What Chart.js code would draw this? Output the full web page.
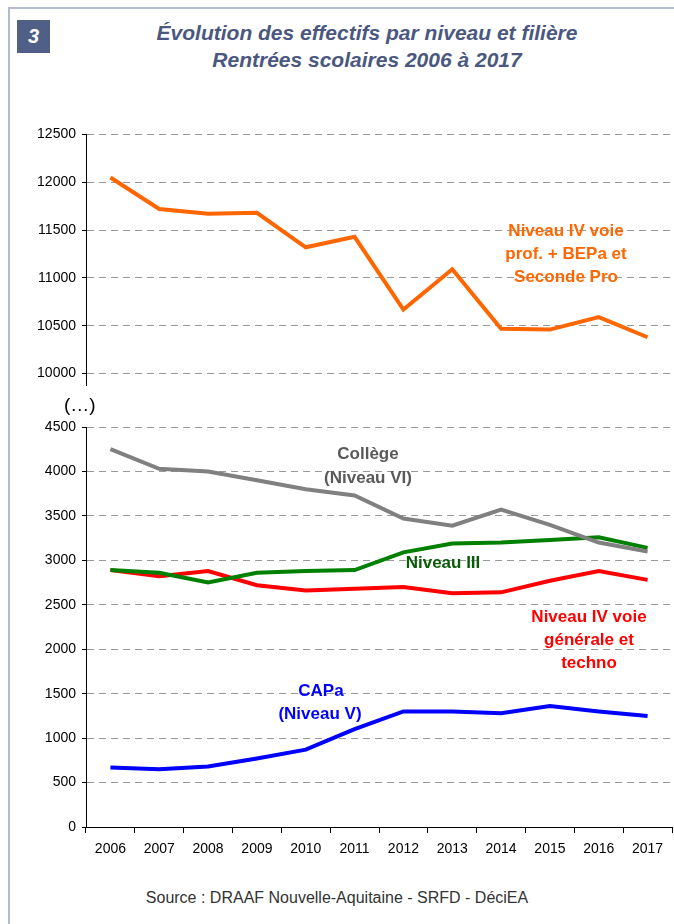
<!DOCTYPE html>
<html>
<head>
<meta charset="utf-8">
<script src="https://cdn.jsdelivr.net/npm/chart.js@4/dist/chart.umd.min.js"></script>
<style>
  html, body { margin:0; padding:0; background:#fff; }
  body { width:674px; height:924px; position:relative; overflow:hidden; font-family:"Liberation Sans", Arial, sans-serif; }
  #frame { position:absolute; left:8px; top:7px; width:700px; height:950px; border-left:2px solid #b3bbcd; border-top:2px solid #b3bbcd; }
  #badge { position:absolute; left:17px; top:20px; width:33px; height:33px; background:#4f5f86; color:#fff; font:italic bold 20px "Liberation Sans", Arial, sans-serif; text-align:center; line-height:33px; }
  .title { position:absolute; left:367px; transform:translateX(-50%); white-space:nowrap; color:#4a5880; font:italic bold 21px "Liberation Sans Narrow", "Liberation Sans", Arial, sans-serif; }
  canvas { position:absolute; left:0; }
  .lbl { position:absolute; transform:translate(-50%,-50%); white-space:nowrap; text-align:center; font:bold 17px "Liberation Sans", Arial, sans-serif; }
  #source { position:absolute; left:337px; top:898px; transform:translate(-50%,-50%); white-space:nowrap; color:#333; font:16px "Liberation Sans Narrow", "Liberation Sans", Arial, sans-serif; }
  #ellipsis { position:absolute; left:64px; top:394px; font:19px "Liberation Sans", Arial, sans-serif; color:#000; }
</style>
</head>
<body>
<div id="frame"></div>
<div id="badge">3</div>
<div class="title" style="top:21px">Évolution des effectifs par niveau et filière</div>
<div class="title" style="top:48px">Rentrées scolaires 2006 à 2017</div>
<canvas id="top" width="674" height="280" style="top:120px"></canvas>
<canvas id="bottom" width="674" height="470" style="top:400px"></canvas>
<div id="ellipsis">(…)</div>
<div class="lbl" style="left:566px;top:231px;color:#ff6600">Niveau IV voie</div>
<div class="lbl" style="left:566px;top:254px;color:#ff6600">prof. + BEPa et</div>
<div class="lbl" style="left:566px;top:277px;color:#ff6600">Seconde Pro</div>
<div class="lbl" style="left:368px;top:454px;color:#595959">Collège</div>
<div class="lbl" style="left:368px;top:478px;color:#595959">(Niveau VI)</div>
<div class="lbl" style="left:443px;top:563px;color:#0a5c0a">Niveau III</div>
<div class="lbl" style="left:589px;top:617px;color:#ff0000">Niveau IV voie</div>
<div class="lbl" style="left:589px;top:640px;color:#ff0000">générale et</div>
<div class="lbl" style="left:589px;top:663px;color:#ff0000">techno</div>
<div class="lbl" style="left:321px;top:691px;color:#0000ff">CAPa</div>
<div class="lbl" style="left:320px;top:714px;color:#0000ff">(Niveau V)</div>
<div id="source">Source : DRAAF Nouvelle-Aquitaine - SRFD - DéciEA</div>
<script>
const years = ["2006","2007","2008","2009","2010","2011","2012","2013","2014","2015","2016","2017"];
const niveauIVPro = [12050, 11720, 11670, 11680, 11320, 11430, 10670, 11090, 10470, 10460, 10590, 10380];
const college = [4250, 4030, 4000, 3900, 3800, 3730, 3470, 3390, 3570, 3400, 3200, 3100];
const niveauIII = [2890, 2860, 2750, 2860, 2880, 2890, 3090, 3190, 3200, 3230, 3260, 3140];
const niveauIVGen = [2890, 2820, 2880, 2720, 2660, 2680, 2700, 2630, 2640, 2770, 2880, 2780];
const capa = [670, 650, 680, 770, 870, 1100, 1300, 1300, 1280, 1360, 1300, 1250];
const topTicks = [10000, 10500, 11000, 11500, 12000, 12500];
const bottomTicks = [0, 500, 1000, 1500, 2000, 2500, 3000, 3500, 4000, 4500];

const FONT = "'Liberation Sans', Arial, sans-serif";
const line = (data, color) => ({ data, borderColor: color, backgroundColor: color, borderWidth: 4, pointRadius: 0, tension: 0, fill: false });

const yAxis = (min, max, tickValues) => ({
  min, max,
  afterFit: s => { s.width = 86; },
  afterBuildTicks: s => { s.ticks = tickValues.map(v => ({ value: v })); },
  ticks: { color: '#000', padding: 6, font: { family: FONT, size: 14 }, callback: v => String(v) },
  border: { display: true, color: '#000', width: 1, dash: [7, 5] },
  grid: { color: '#9a9a9a', lineWidth: 1, tickLength: 4, tickColor: '#000', tickBorderDash: [] }
});

new Chart(document.getElementById('top'), {
  type: 'line',
  data: { labels: years, datasets: [line(niveauIVPro, '#ff6600')] },
  options: {
    responsive: false, animation: false, devicePixelRatio: 1,
    layout: { padding: { left: 0, right: 2, top: 12, bottom: 13 } },
    plugins: { legend: { display: false }, tooltip: { enabled: false } },
    scales: {
      x: { type: 'category', offset: true, display: false },
      y: yAxis(9875, 12500, topTicks)
    }
  }
});

new Chart(document.getElementById('bottom'), {
  type: 'line',
  data: { labels: years, datasets: [
    line(college, '#808080'),
    line(niveauIII, '#008000'),
    line(niveauIVGen, '#ff0000'),
    line(capa, '#0000ff')
  ] },
  options: {
    responsive: false, animation: false, devicePixelRatio: 1,
    layout: { padding: { left: 0, right: 2, top: 27, bottom: 0 } },
    plugins: { legend: { display: false }, tooltip: { enabled: false } },
    scales: {
      x: {
        type: 'category', offset: true,
        afterFit: s => { s.height = 43; },
        ticks: { color: '#000', padding: 8, maxRotation: 0, autoSkip: false, font: { family: FONT, size: 14 } },
        border: { display: true, color: '#000', width: 1 },
        grid: { offset: true, drawOnChartArea: false, tickLength: 6, tickColor: '#000' }
      },
      y: yAxis(0, 4500, bottomTicks)
    }
  }
});
</script>
</body>
</html>
